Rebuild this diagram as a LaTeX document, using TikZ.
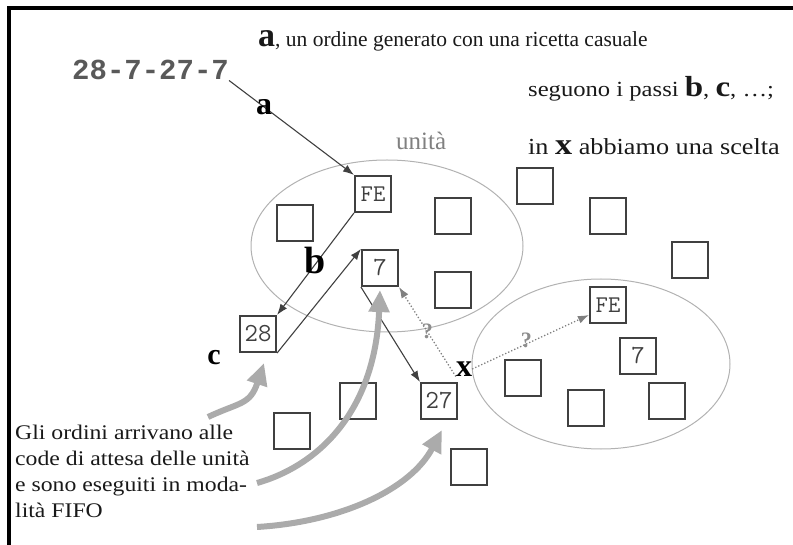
\documentclass[tikz,border=0pt]{standalone}
\usepackage{fontspec}
\setmainfont{Liberation Serif}
\setmonofont{Liberation Mono}
\newfontfamily\widefont[FakeStretch=1.14]{Liberation Serif}
\newfontfamily\boxfont{Latin Modern Mono}
\usetikzlibrary{arrows.meta,positioning,shapes.geometric}

\newcommand{\pxfont}[1]{\fontsize{#1}{#1}\selectfont}

\tikzset{
  queue/.style={draw=black!75,line width=1.6pt,minimum size=36.5pt,inner sep=0pt,
    font=\boxfont\pxfont{26},text=black!75},
  unit/.style={ellipse,draw=black!30,line width=1pt,inner sep=0pt},
  pass/.style={draw=black!75,line width=1.1pt,-{Latex[length=11pt,width=8pt]}},
  guess/.style={draw=black!50,line width=1.3pt,dotted,-{Latex[length=11pt,width=8pt]}},
  flow/.style={draw=black!33,line width=6pt,-{Triangle[length=22pt,width=20pt]}},
  tag/.style={font=\bfseries\pxfont{32},inner sep=0pt},
  query/.style={font=\bfseries\pxfont{22},text=black!45,inner sep=0pt},
  say/.style={font=\widefont\pxfont{20.8},anchor=base west,inner sep=0pt,text=black!90},
}

\begin{document}
\begin{tikzpicture}[x=1pt,y=-1pt]
\useasboundingbox (0,0) rectangle (793,545);
\draw[line width=4pt] (9,545) -- (9,8) -- (793,8);

% units
\node[unit,minimum width=272pt,minimum height=172pt] (ua) at (387,246) {};
\node[unit,minimum width=258pt,minimum height=170pt] (ub) at (601,364) {};
\node[say,font=\pxfont{25},text=black!50] (ualbl) at (396,150) {unità};

% queues
\foreach \n/\x/\y/\t in {fea/373/194/{\pxfont{24}FE}, sva/380/268/7, twe/258/334/28,
  tws/439/401/27, feb/608/305/{\pxfont{24}FE}, svb/638/356/7,
  e1/295/223/{}, e2/453/216/{}, e3/453/290/{}, e4/535/186/{}, e5/608/216/{},
  e6/690/260/{}, e7/358/401/{}, e8/292/431/{}, e9/469/467/{}, e10/523/378/{},
  e11/586/408/{}, e12/667/401/{}}
  \node[queue] (\n) at (\x,\y) {\t};

% texts
\node[say,font=\pxfont{21.5}] (title) at (258,47) {{\bfseries\pxfont{34}a}, un ordine generato con una ricetta casuale};
\node[say,font=\widefont\pxfont{21.6}] (steps) at (528,97) {seguono i passi {\bfseries\pxfont{29}b}, {\bfseries\pxfont{29}c}, \ldots;};
\node[say,font=\widefont\pxfont{23}] (choice) at (528,155) {in {\bfseries\pxfont{30}x} abbiamo una scelta};
\node[say,font=\ttfamily\bfseries\pxfont{29},text=black!65] (recipe) at (72,80) {28-7-27-7};
\foreach \i/\l in {0/{Gli ordini arrivano alle},1/{code di attesa delle unità},
  2/{e sono eseguiti in moda-},3/{lità FIFO}}
  \node[say] (n\i) at (15,{439+26.3*\i}) {\l};

% passes
\draw[pass] (recipe.south east) -- node[tag,pos=0.28]{a} (fea.north west);
\draw[pass] (fea.south west) -- node[tag,pos=0.47,xshift=-3pt,font=\bfseries\pxfont{38}]{b} (twe.north east);
\node[tag,font=\bfseries\pxfont{30}] (lc) at (214,358) {c};
\draw[pass] (twe.south east) -- (sva.north west);
\draw[pass] (sva.south west) -- (tws.north west);
\node[tag] (lx) at (464,369) {x};
\draw[guess] (lx.south west) -- node[query]{?} (sva.south east);
\draw[guess] (lx.east) -- node[query,above left=-6pt and -2pt]{?} ([yshift=-10pt]feb.west);

% arrivals
\coordinate (f1) at (208,417);
\coordinate (f2) at (257,483);
\coordinate (f3) at (257,527);
\draw[flow] (f1) .. controls (240,402) and (250,405) .. ([shift={(6,10)}]twe.south);
\draw[flow] (f2) .. controls (320,465) and (375,410) .. ([shift={(0,3)}]sva.south);
\draw[flow] (f3) .. controls (340,522) and (410,490) .. ([shift={(3,10)}]tws.south);

\end{tikzpicture}
\end{document}
